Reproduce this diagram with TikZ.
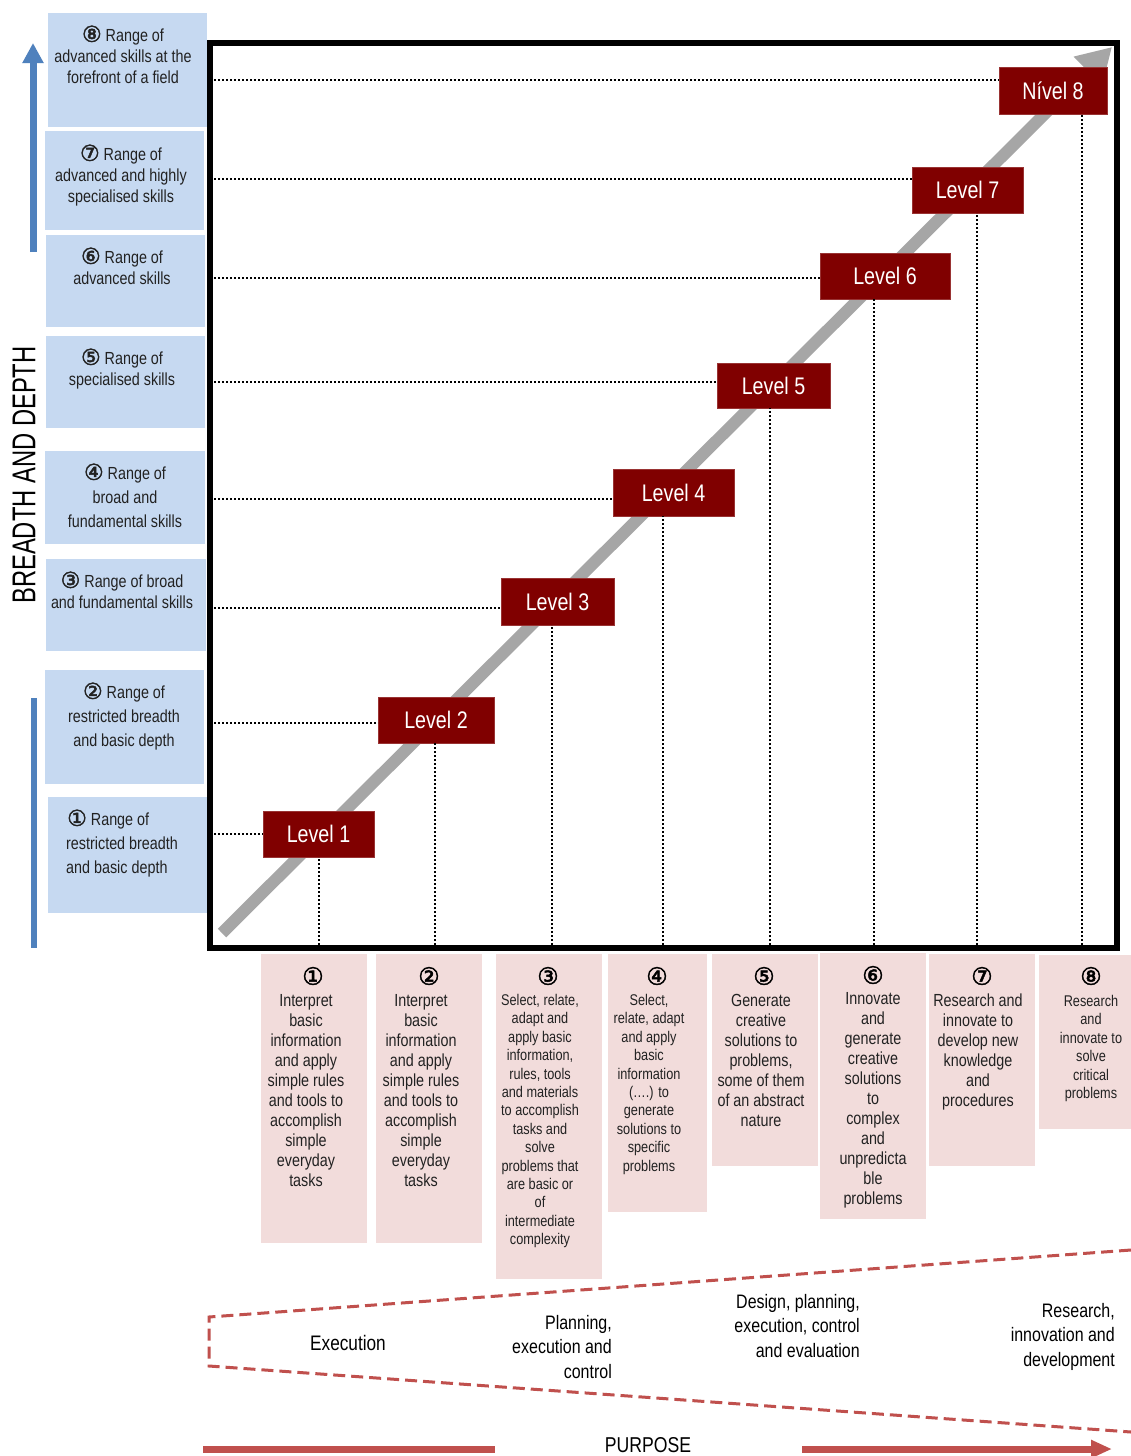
\documentclass[tikz,border=0pt]{standalone}
\usepackage{fontspec}
\setmainfont{Liberation Sans}[FakeStretch=0.82]
\newfontfamily\narrowfont{Liberation Sans}[FakeStretch=0.72]
\newfontfamily\circf{DejaVu Sans}[FakeBold=2]
\newcommand{\cnum}[1]{\smash{\fontsize{22}{21}\circf #1}}
\usetikzlibrary{arrows.meta}
\definecolor{sideblue}{HTML}{C6D9F1}
\definecolor{pinkbox}{HTML}{F2DCDB}
\definecolor{lvred}{HTML}{800000}
\definecolor{dashred}{HTML}{C0504D}
\definecolor{arrowblue}{HTML}{4F81BD}
\definecolor{arrowgray}{HTML}{A6A6A6}
\definecolor{txt}{HTML}{222222}
\tikzset{
  sidebox/.style={fill=sideblue, draw=none, inner sep=0pt, outer sep=0pt, anchor=north west},
  sidetext/.style={inner sep=0pt, anchor=north, align=center, text=txt, font=\fontsize{17.5}{21}\selectfont},
  sidetextw/.style={sidetext, font=\fontsize{17.5}{24}\selectfont},
  lvbox/.style={fill=lvred, draw=lvred!80!white, line width=0.8pt, inner sep=0pt, outer sep=0pt, anchor=north west, text=white, font=\fontsize{24}{28}\selectfont},
  pbox/.style={fill=pinkbox, draw=none, inner sep=0pt, outer sep=0pt, anchor=north west},
  numtext/.style={inner sep=0pt, text=black, font=\fontsize{24}{24}\circf},
  btext/.style={inner sep=0pt, anchor=north, align=center, text=txt, font=\fontsize{17.5}{20}\selectfont},
  stext/.style={inner sep=0pt, anchor=north, align=center, text=txt, font=\fontsize{15.5}{18.4}\selectfont},
  dotline/.style={black, line width=2pt, dash pattern=on 2pt off 2pt},
  wtext/.style={inner sep=0pt, anchor=north east, align=right, text=black, font=\fontsize{19.5}{24.5}\selectfont},
  reddash/.style={dashred, line width=3pt, dash pattern=on 12pt off 6pt},
  redbar/.style={dashred, line width=7pt},
}
\begin{document}
\begin{tikzpicture}[x=1pt, y=-1pt]
\useasboundingbox[fill=white] (0,0) rectangle (1131,1456);

% main frame
\node[draw=black, line width=6pt, inner sep=0pt, outer sep=0pt, minimum width=907pt, minimum height=905pt, anchor=north west] (frame) at (209.5,43) {};

% gray diagonal arrow
\coordinate (gstart) at (222,933);
\coordinate (gend) at (1112,47);
\draw[arrowgray, line width=12pt, -{Triangle[length=34pt,width=38pt]}] (gstart) -- (gend);

% level boxes
\node[lvbox, minimum width=111pt, minimum height=46pt] (L1) at (263,811) {Level 1};
\node[lvbox, minimum width=116pt, minimum height=46pt] (L2) at (378,697) {Level 2};
\node[lvbox, minimum width=113pt, minimum height=47pt] (L3) at (501,578) {Level 3};
\node[lvbox, minimum width=121pt, minimum height=47pt] (L4) at (613,469) {Level 4};
\node[lvbox, minimum width=113pt, minimum height=45pt] (L5) at (717,363) {Level 5};
\node[lvbox, minimum width=130pt, minimum height=46pt] (L6) at (820,253) {Level 6};
\node[lvbox, minimum width=111pt, minimum height=46pt] (L7) at (912,167) {Level 7};
\node[lvbox, minimum width=108pt, minimum height=47pt] (L8) at (999,67) {Nível 8};

% horizontal dotted lines
\coordinate (h1) at (214,834);
\coordinate (h2) at (214,723);
\coordinate (h3) at (214,608);
\coordinate (h4) at (214,499);
\coordinate (h5) at (214,382);
\coordinate (h6) at (214,278);
\coordinate (h7) at (214,179);
\coordinate (h8) at (214,80);
\draw[dotline] (h1) -- (h1 -| L1.west);
\draw[dotline] (h2) -- (h2 -| L2.west);
\draw[dotline] (h3) -- (h3 -| L3.west);
\draw[dotline] (h4) -- (h4 -| L4.west);
\draw[dotline] (h5) -- (h5 -| L5.west);
\draw[dotline] (h6) -- (h6 -| L6.west);
\draw[dotline] (h7) -- (h7 -| L7.west);
\draw[dotline] (h8) -- (h8 -| L8.west);

% vertical dotted lines
\coordinate (v1) at (319,945);
\coordinate (v2) at (435,945);
\coordinate (v3) at (552,945);
\coordinate (v4) at (663,945);
\coordinate (v5) at (770,945);
\coordinate (v6) at (874,945);
\coordinate (v7) at (977,945);
\coordinate (v8) at (1082,945);
\draw[dotline] (v1) -- (v1 |- L1.south);
\draw[dotline] (v2) -- (v2 |- L2.south);
\draw[dotline] (v3) -- (v3 |- L3.south);
\draw[dotline] (v4) -- (v4 |- L4.south);
\draw[dotline] (v5) -- (v5 |- L5.south);
\draw[dotline] (v6) -- (v6 |- L6.south);
\draw[dotline] (v7) -- (v7 |- L7.south);
\draw[dotline] (v8) -- (v8 |- L8.south);

% side boxes
\node[sidebox, minimum width=159pt, minimum height=114pt] (s8) at (48,13) {};
\node[sidebox, minimum width=159pt, minimum height=99pt] (s7) at (45,131) {};
\node[sidebox, minimum width=159pt, minimum height=92pt] (s6) at (46,235) {};
\node[sidebox, minimum width=159pt, minimum height=92pt] (s5) at (46,336) {};
\node[sidebox, minimum width=160pt, minimum height=93pt] (s4) at (45,451) {};
\node[sidebox, minimum width=160pt, minimum height=92pt] (s3) at (46,559) {};
\node[sidebox, minimum width=159pt, minimum height=114pt] (s2) at (45,670) {};
\node[sidebox, minimum width=159pt, minimum height=116pt] (s1) at (48,797) {};

\node[sidetext] (s8t) at (123,29) {\cnum{⑧} Range of\\advanced skills at the\\forefront of a field};
\node[sidetext] (s7t) at (121,148) {\cnum{⑦} Range of\\advanced and highly\\specialised skills};
\node[sidetext] (s6t) at (122,251) {\cnum{⑥} Range of\\advanced skills};
\node[sidetext] (s5t) at (122,352) {\cnum{⑤} Range of\\specialised skills};
\node[sidetextw] (s4t) at (125,467) {\cnum{④} Range of\\broad and\\fundamental skills};
\node[sidetext] (s3t) at (122,575) {\cnum{③} Range of broad\\and fundamental skills};
\node[sidetextw] (s2t) at (124,686) {\cnum{②} Range of\\restricted breadth\\and basic depth};
\node[sidetextw, anchor=north west, align=left] (s1t) at (66,813) {\hspace*{1pt}\cnum{①} Range of\\restricted breadth\\and basic depth};

% blue arrows
\coordinate (bu0) at (33,252);
\coordinate (bu1) at (33,43);
\draw[arrowblue, line width=7pt, -{Triangle[length=20pt,width=20pt]}] (bu0) -- (bu1);
\coordinate (bl0) at (34,698);
\coordinate (bl1) at (34,948);
\draw[arrowblue, line width=6pt] (bl0) -- (bl1);

\node[rotate=90, inner sep=0pt, text=black, font=\fontsize{33}{36}\narrowfont] (bd) at (24,475) {BREADTH AND DEPTH};

% pink boxes
\node[pbox, minimum width=106pt, minimum height=289pt] (P1) at (261,954) {};
\node[pbox, minimum width=106pt, minimum height=289pt] (P2) at (376,954) {};
\node[pbox, minimum width=106pt, minimum height=325pt] (P3) at (496,954) {};
\node[pbox, minimum width=99pt, minimum height=258pt] (P4) at (608,954) {};
\node[pbox, minimum width=106pt, minimum height=212pt] (P5) at (712,954) {};
\node[pbox, minimum width=106pt, minimum height=266pt] (P6) at (820,953) {};
\node[pbox, minimum width=106pt, minimum height=212pt] (P7) at (929,954) {};
\node[pbox, minimum width=92pt, minimum height=174pt] (P8) at (1039,955) {};

\node[numtext] (n1) at (313,976) {①};
\node[numtext] (n2) at (429,976) {②};
\node[numtext] (n3) at (548,976) {③};
\node[numtext] (n4) at (657,976) {④};
\node[numtext] (n5) at (764,976) {⑤};
\node[numtext] (n6) at (873,975) {⑥};
\node[numtext] (n7) at (982,976) {⑦};
\node[numtext] (n8) at (1091,976) {⑧};

\node[btext] (t1) at (306,994) {Interpret\\basic\\information\\and apply\\simple rules\\and tools to\\accomplish\\simple\\everyday\\tasks};
\node[btext] (t2) at (421,994) {Interpret\\basic\\information\\and apply\\simple rules\\and tools to\\accomplish\\simple\\everyday\\tasks};
\node[stext] (t3) at (540,994) {Select, relate,\\adapt and\\apply basic\\information,\\rules, tools\\and materials\\to accomplish\\tasks and\\solve\\problems that\\are basic or\\of\\intermediate\\complexity};
\node[stext] (t4) at (649,994) {Select,\\relate, adapt\\and apply\\basic\\information\\(….) to\\generate\\solutions to\\specific\\problems};
\node[btext] (t5) at (761,994) {Generate\\creative\\solutions to\\problems,\\some of them\\of an abstract\\nature};
\node[btext] (t6) at (873,992) {Innovate\\and\\generate\\creative\\solutions\\to\\complex\\and\\unpredicta\\ble\\problems};
\node[btext] (t7) at (978,994) {Research and\\innovate to\\develop new\\knowledge\\and\\procedures};
\node[stext] (t8) at (1091,995) {Research\\and\\innovate to\\solve\\critical\\problems};

% dashed wedge
\coordinate (w1) at (1131,1250);
\coordinate (w2) at (209,1317);
\coordinate (w3) at (209,1366);
\coordinate (w4) at (1131,1432);
\draw[reddash] (w1) -- (w2) -- (w3) -- (w4);

\node[inner sep=0pt, text=black, font=\fontsize{21}{24}\selectfont] (ex) at (348,1343) {Execution};
\node[wtext] (pl) at (612,1315) {Planning,\\execution and\\control};
\node[wtext] (de) at (860,1294) {Design, planning,\\execution, control\\and evaluation};
\node[wtext] (re) at (1115,1303) {Research,\\innovation and\\development};

% purpose arrow
\node[inner sep=0pt, text=black, font=\fontsize{21.5}{24}\selectfont] (pu) at (648,1445) {PURPOSE};
\coordinate (pa0) at (203,1449);
\coordinate (pa1) at (495,1449);
\coordinate (pb0) at (802,1449);
\coordinate (pb1) at (1112,1449);
\draw[redbar] (pa0) -- (pa1);
\draw[redbar, -{Triangle[length=21pt,width=17pt]}] (pb0) -- (pb1);
\end{tikzpicture}
\end{document}
